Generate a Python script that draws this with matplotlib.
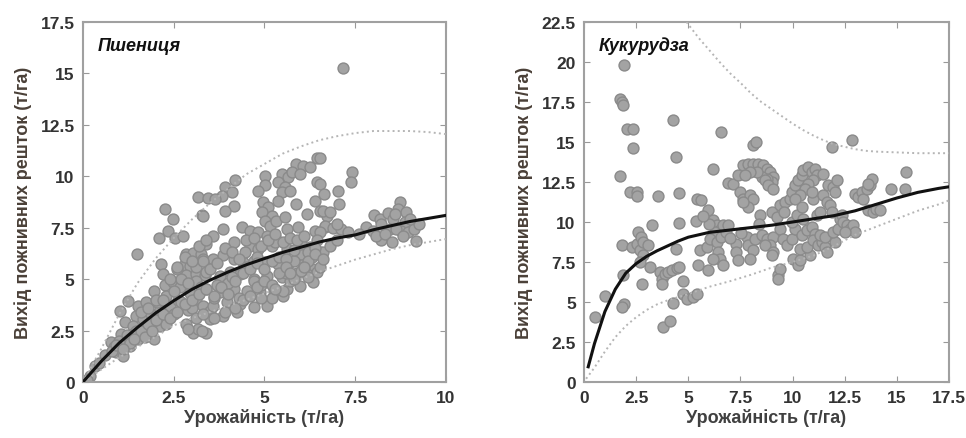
import matplotlib
matplotlib.use('Agg')
import matplotlib.pyplot as plt
from matplotlib.ticker import FuncFormatter

plt.rcParams['font.family'] = ['Liberation Sans', 'DejaVu Sans']

# --- Wheat (Пшениця) observations: yield, residue ---
wheat_x = [7.15, 1.5, 2.25, 2.48, 2.09, 2.34, 2.53, 2.75, 3.17, 3.44, 3.29, 2.16, 2.2,
           2.85, 3.03, 3.26, 2.75, 2.94, 1.97, 2.25, 2.48, 2.66, 2.85, 3.12, 3.35,
           1.24, 1.01, 1.52, 1.74, 1.47, 1.15, 1.38, 1.65, 1.88, 2.11, 2.39, 2.62,
           2.94, 3.12, 3.3, 3.49, 2.11, 2.3, 2.85, 3.03, 3.17, 3.4, 0.78, 0.92, 1.1,
           1.29, 1.52, 1.06, 1.38, 0.32, 1.84, 1.97,
           6.44, 5.88, 6.07, 6.25, 5.47, 5.65, 5.75, 5.98, 5.01, 5.01, 5.38, 5.56,
           5.47, 5.7, 6.44, 4.83, 4.19, 3.91, 4.1, 3.82, 3.64, 4.97, 5.1, 5.38, 4.92,
           5.2, 5.88, 6.16, 6.39, 6.53, 6.72, 4.15, 3.92, 3.31, 5.01, 5.15, 5.33, 5.56,
           5.61, 5.93, 6.39, 6.67, 4.38, 4.61, 4.83, 5.06, 5.29, 3.59, 3.87, 3.4,
           4.15, 4.61, 4.83, 5.2, 5.61, 5.89, 6.26, 6.53, 3.31, 3.59, 3.87, 4.15,
           4.42, 4.7, 5.01, 5.38, 5.7, 6.07, 6.34, 3.4, 3.77, 4.05, 4.33, 4.7, 5.06,
           5.47, 5.84, 6.16, 6.44, 3.4, 3.77, 4.15, 4.52, 4.88, 5.25, 5.61, 5.98,
           6.34, 3.59, 3.96, 4.33, 4.7, 5.06, 5.52, 3.5, 3.87, 4.24, 3.27,
           6.53, 7.4, 7.37, 6.53, 6.64, 7.03, 7.06, 6.62, 6.8, 6.67, 6.9, 7.12, 7.31,
           6.53, 6.62, 6.53, 7.8, 8.03, 8.17, 7.99, 8.22, 8.08, 8.4, 8.54, 8.45, 8.31,
           8.72, 8.67, 8.9, 8.86, 8.77, 8.95, 9.13, 9.18, 8.63, 8.81, 8.6, 8.22,
           2.5, 2.7, 2.9, 3.1, 3.6, 3.8, 4.0, 4.3, 4.5, 4.7, 4.9, 5.2, 5.5, 5.7,
           5.9, 6.1, 6.3, 6.0, 5.8, 5.6, 0.6, 0.85, 1.2, 1.45, 1.7, 1.9, 2.05, 2.6,
           3.0, 3.25, 3.7, 4.1, 4.45, 4.8, 5.3, 6.2, 6.45, 9.25, 9.0, 8.5, 7.6, 7.0,
           1.0, 1.2, 1.3, 1.6, 1.8, 2.0, 2.2, 2.4, 2.6, 2.8, 3.0, 3.2, 3.4, 3.6, 3.8,
           4.0, 4.2, 4.4, 4.6, 4.8, 5.0, 5.2, 5.4, 5.6, 5.8, 6.0, 6.2, 6.4, 2.3, 2.5,
           2.7, 2.9, 3.1, 3.3, 3.5, 3.7, 3.9, 4.1, 4.3, 4.5, 4.7, 4.9, 5.1, 5.3, 5.5,
           5.7, 5.9, 6.1, 3.6, 3.9, 4.2, 4.4, 4.6, 4.8, 5.0, 5.2, 5.4, 5.6, 5.8, 6.0,
           6.2, 6.4, 6.6, 6.8, 7.0, 0.8, 0.9, 1.1, 1.4, 1.7, 1.9, 1.6, 1.8, 2.0, 2.2,
           2.4, 2.6, 2.8, 3.0, 3.2, 3.4, 2.9, 3.1, 3.3, 4.9, 5.3, 5.7, 6.1, 0.45, 0.2,
           0.1]
wheat_y = [15.27, 6.22, 8.4, 7.9, 7.0, 7.35, 7.0, 7.1, 9.0, 8.95, 8.1, 5.74, 5.25,
           6.2, 6.25, 6.2, 5.65, 5.65, 4.44, 4.7, 4.85, 4.6, 5.2, 5.25, 5.2,
           3.95, 3.47, 3.7, 3.87, 3.22, 2.9, 2.74, 3.06, 3.3, 3.55, 3.7, 4.0,
           4.35, 4.03, 3.7, 3.47, 2.74, 2.82, 2.82, 2.4, 2.56, 2.4, 1.93, 1.44, 1.28,
           1.77, 2.09, 2.33, 2.33, 0.78, 2.4, 2.1,
           10.9, 10.6, 10.5, 10.45, 10.1, 9.95, 10.2, 10.1, 10.0, 9.6, 9.7, 9.46,
           9.22, 9.3, 9.7, 9.3, 9.8, 9.46, 9.22, 9.05, 8.9, 8.73, 8.5, 8.81, 8.25,
           8.08, 8.65, 8.17, 8.81, 8.33, 8.08, 8.57, 8.33, 8.08, 7.84, 7.6, 7.84, 8.0,
           7.44, 7.52, 7.36, 7.52, 7.52, 7.36, 7.28, 7.12, 7.04, 7.12, 7.44, 6.71,
           6.8, 6.63, 6.47, 6.63, 6.47, 6.47, 6.55, 6.3, 6.0, 6.0, 6.15, 6.0,
           5.82, 5.9, 5.82, 5.73, 5.82, 5.73, 5.5, 5.33, 5.17, 5.33, 5.25, 5.0, 5.17,
           5.09, 5.17, 5.25, 5.33, 4.52, 4.36, 4.52, 4.44, 4.36, 4.44, 4.52, 4.68,
           4.85, 3.71, 3.87, 3.79, 3.63, 3.71, 4.2, 3.06, 3.22, 3.38, 2.5,
           10.9, 10.22, 9.74, 9.63, 9.14, 9.3, 8.65, 8.33, 8.25, 7.6, 7.5, 7.44, 7.3,
           7.28, 6.3, 5.6, 7.52, 8.14, 7.92, 7.36, 6.88, 7.12, 8.22, 7.92, 7.44, 7.2,
           8.73, 8.41, 8.25, 7.76, 7.36, 7.28, 7.44, 6.87, 7.44, 7.12, 8.17, 7.68,
           3.3, 3.9, 3.5, 4.9, 4.1, 4.6, 4.8, 4.1, 5.6, 4.9, 4.7, 4.1, 4.4, 4.9,
           5.3, 5.6, 6.1, 6.2, 5.9, 5.3, 1.3, 1.7, 2.0, 2.5, 2.6, 2.9, 3.9, 5.5,
           3.6, 4.6, 4.7, 5.1, 6.3, 6.1, 6.8, 5.1, 6.9, 7.7, 7.9, 6.8, 7.2, 7.7,
           2.0, 2.3, 1.9, 2.5, 2.8, 3.0, 3.3, 3.1, 3.4, 3.8, 4.0, 4.3, 4.5, 4.2, 4.6,
           4.3, 4.9, 5.3, 5.5, 5.8, 5.5, 5.9, 6.1, 6.0, 6.4, 6.7, 6.3, 6.5, 4.2, 4.4,
           5.0, 4.8, 5.6, 5.9, 5.5, 5.8, 6.5, 6.3, 6.0, 6.9, 7.0, 6.6, 6.9, 7.2, 6.8,
           7.0, 6.9, 7.1, 3.1, 3.4, 3.6, 4.0, 4.2, 4.6, 4.9, 4.7, 5.3, 5.6, 5.0, 5.4,
           5.9, 6.2, 6.0, 6.6, 6.9, 1.5, 1.8, 1.6, 2.1, 2.2, 2.5, 3.4, 3.6, 4.0, 4.0,
           5.0, 5.6, 6.1, 5.9, 6.6, 6.9, 2.6, 3.1, 3.3, 4.1, 4.5, 5.3, 5.6, 0.9, 0.3,
           0.1]

# --- Corn (Кукурудза) observations ---
corn_x = [1.92, 1.72, 1.8, 1.88, 2.04, 2.36, 2.36, 1.72, 2.2, 2.52, 2.52, 3.56, 4.28,
          4.41, 4.57, 3.24, 4.57, 1.8, 2.28, 2.52, 2.68, 2.6, 2.72, 2.84, 3.07, 2.84,
          3.16, 2.68, 1.85, 1.92, 1.8, 2.76, 1.0, 0.53, 3.64, 3.72, 3.88, 4.04, 4.2,
          4.44, 4.57, 3.72, 4.41, 4.76, 4.76, 4.92, 5.24, 5.4, 4.28, 3.8, 4.12,
          5.4, 5.59, 5.37, 5.96, 5.56, 5.88, 5.48, 5.96, 6.2, 6.59, 6.2, 6.36, 6.52,
          6.28, 6.04, 6.36, 6.59, 6.83, 6.68, 6.9, 6.44, 6.52, 6.68, 6.2, 6.91, 7.15,
          7.31, 7.31, 7.39, 7.39, 7.63, 7.87, 8.11, 8.35, 8.59, 8.75, 8.91, 9.07,
          8.99, 8.75, 8.51, 8.27, 7.95, 7.71, 8.11, 8.24, 8.67, 8.83, 9.07, 7.47,
          7.63, 7.79, 7.95, 8.11, 7.87, 7.63, 8.43, 7.79, 7.87, 8.11, 7.95, 8.19,
          8.51, 8.75, 9.07, 8.91, 8.67, 9.07, 8.99, 9.31, 9.39, 9.31, 8.99, 9.23,
          9.39, 9.63, 9.87, 9.95, 10.11, 10.27, 10.43, 10.51, 10.75, 10.91, 11.07,
          11.15, 10.99, 10.75, 10.59, 10.35, 10.11, 9.39, 9.55, 9.71, 9.95, 10.11,
          9.95, 10.19, 10.43, 10.51, 10.03, 10.27, 10.35, 10.83, 10.35, 10.67,
          10.43, 10.67, 10.91, 11.07, 10.99, 11.23, 11.39, 11.55, 11.63, 11.31,
          11.55, 11.15, 11.31, 10.99, 10.91, 11.47, 11.63, 11.79, 11.87, 11.71,
          11.95, 12.03, 12.11, 11.47, 11.87, 12.03, 11.95, 12.19, 12.27, 12.35,
          12.43, 12.59, 12.75, 12.91, 12.99, 12.51, 12.83, 12.99, 13.15, 13.31,
          13.39, 13.55, 13.71, 13.79, 13.63, 13.63, 13.87, 14.02, 14.18, 14.74,
          15.38, 15.46, 7.0, 7.55, 8.4, 9.6, 6.0, 5.7]
corn_y = [19.8, 17.7, 17.5, 17.3, 15.8, 15.8, 14.6, 12.9, 11.9, 11.9, 11.6, 11.6, 16.35,
          14.06, 11.83, 9.8, 9.96, 8.58, 8.44, 8.65, 8.23, 9.38, 9.06, 8.75, 8.54, 7.92,
          7.19, 7.5, 6.7, 4.9, 4.7, 6.15, 5.4, 4.06, 6.9, 6.46, 6.77, 6.88, 6.98,
          7.12, 7.19, 6.15, 8.33, 6.29, 5.52, 5.21, 5.31, 5.52, 4.96, 3.44, 3.79,
          11.46, 11.4, 10.04, 10.73, 8.23, 8.44, 7.29, 6.98, 13.3, 15.6, 10.1, 9.8, 9.48,
          9.38, 8.96, 8.75, 9.06, 9.38, 9.79, 9.79, 8.12, 7.71, 7.29, 7.71, 12.44, 12.4,
          8.65, 8.12, 7.6, 12.92, 13.54, 13.65, 13.65, 13.65, 13.54, 13.33, 13.13, 12.81,
          12.5, 12.71, 12.81, 13.13, 13.13, 12.92, 14.79, 15.0, 12.6, 12.29, 12.08, 11.88,
          11.46, 11.25, 11.67, 11.46, 10.94, 11.25, 10.42, 9.06, 8.54, 8.23, 7.71, 8.96,
          9.17, 8.96, 9.06, 8.54, 8.54, 8.12, 7.92, 6.67, 7.08, 6.46, 10.65, 10.31,
          11.04, 11.25, 11.46, 11.88, 12.29, 12.6, 12.92, 13.23, 13.44, 13.13, 13.33,
          12.92, 12.6, 12.4, 12.08, 11.67, 11.46, 9.58, 8.96, 8.54, 8.96, 9.58,
          10.0, 10.42, 10.94, 10.21, 7.71, 7.29, 7.6, 7.92, 8.33, 8.44,
          9.17, 9.48, 9.69, 9.27, 8.85, 8.54, 8.75, 8.44, 8.12, 9.17,
          9.06, 10.42, 10.62, 11.46, 11.88, 11.67, 11.25, 11.04, 10.62, 12.29,
          12.19, 11.88, 12.6, 13.02, 14.69, 8.75, 9.38, 9.58, 10.21, 10.42,
          10.0, 9.79, 9.58, 9.79, 9.38, 9.38, 15.1, 11.77, 11.56, 11.88,
          11.46, 12.08, 12.29, 12.71, 12.4, 10.73, 10.62, 10.83, 10.73, 12.08,
          12.08, 13.13, 9.0, 9.3, 9.9, 10.6, 9.9, 10.4]

# --- fitted curve and bounds ---
wheat_cx = [0, 0.5, 1, 1.5, 2, 2.5, 3, 3.5, 4, 4.5, 5, 5.5, 6, 6.5, 7, 7.5, 8, 8.5, 9, 9.5, 10]
wheat_mean = [0, 1.0, 1.9, 2.65, 3.35, 3.95, 4.5, 4.95, 5.35, 5.7, 6.0, 6.3, 6.55, 6.8,
              7.0, 7.15, 7.4, 7.6, 7.8, 7.95, 8.1]
wheat_upper = [0, 1.6, 3.3, 4.8, 6.0, 7.0, 7.9, 8.7, 9.4, 10.1, 10.6, 11.1, 11.45, 11.75,
               11.95, 12.1, 12.2, 12.2, 12.2, 12.15, 12.05]
wheat_lower = [0, 0.6, 1.2, 1.7, 2.2, 2.75, 3.1, 3.4, 3.7, 4.0, 4.3, 4.65, 5.0, 5.35,
               5.65, 5.95, 6.2, 6.45, 6.65, 6.8, 6.95]

corn_cx = [0.2, 0.5, 1, 1.5, 2, 2.5, 3, 3.5, 4, 4.5, 5, 6, 7, 8, 9, 10, 11, 12, 13, 14,
           15, 16, 17, 17.5]
corn_mean = [0.95, 2.4, 4.4, 5.8, 6.8, 7.4, 7.85, 8.2, 8.5, 8.8, 9.05, 9.35, 9.5, 9.65,
             9.8, 10.0, 10.2, 10.4, 10.7, 11.1, 11.5, 11.85, 12.1, 12.2]
corn_lx = [0.1, 0.5, 1, 1.5, 2, 2.5, 3, 3.5, 4, 5, 6, 7, 8, 9, 10, 11, 12, 13, 14, 15,
           16, 17, 17.5]
corn_lower = [0.2, 0.9, 1.9, 2.8, 3.5, 4.05, 4.5, 4.85, 5.1, 5.5, 5.95, 6.3, 6.7, 7.15,
              7.5, 7.9, 8.5, 9.2, 9.7, 10.2, 10.7, 11.1, 11.35]
corn_ux = [4.5, 5, 5.5, 6, 6.5, 7, 7.5, 8, 8.5, 9, 9.5, 10, 10.5, 11, 11.5, 12, 12.5, 13,
           13.5, 14, 15, 16, 17, 17.5]
corn_upper = [23.3, 22.35, 21.5, 20.75, 20.0, 19.3, 18.7, 18.05, 17.5, 17.05, 16.6, 16.15,
              15.75, 15.4, 15.1, 14.85, 14.7, 14.55, 14.45, 14.4, 14.35, 14.3, 14.3, 14.3]

TXT = '#333333'
fmt = FuncFormatter(lambda v, p: f'{v:g}')

fig = plt.figure(figsize=(9.66, 4.39), dpi=100)
ax1 = fig.add_axes([0.0859, 0.1276, 0.3758, 0.82])
ax2 = fig.add_axes([0.6046, 0.1276, 0.3778, 0.82])


def style(ax, xmax, ymax, name):
    ax.set_xlim(0, xmax)
    ax.set_ylim(0, ymax)
    ax.set_xticks([i * 2.5 for i in range(int(xmax / 2.5) + 1)])
    ax.set_yticks([i * 2.5 for i in range(int(ymax / 2.5) + 1)])
    ax.xaxis.set_major_formatter(fmt)
    ax.yaxis.set_major_formatter(fmt)
    ax.tick_params(direction='in', top=True, right=True, length=4, color='#999999',
                   labelsize=12.5, labelcolor=TXT, pad=6)
    for lab in ax.get_xticklabels() + ax.get_yticklabels():
        lab.set_fontweight('bold')
    for s in ax.spines.values():
        s.set_color('#a0a0a0')
        s.set_linewidth(1.5)
    ax.set_xlabel('Урожайність (т/га)', fontsize=13, fontweight='bold', color='#404040',
                  labelpad=2)
    ax.set_ylabel('Вихід пожнивних решток (т/га)', fontsize=13, fontweight='bold',
                  color='#4a4038', labelpad=6)
    ax.text(0.04, 0.935, name, transform=ax.transAxes, fontsize=13, fontweight='bold',
            fontstyle='italic', color='#111111', va='center', ha='left')


scat = dict(s=62, c='#a3a3a3', edgecolors='#8a8a8a', linewidths=1.0, zorder=2)
dots = dict(color='#b5b5b5', linestyle=':', linewidth=1.4, zorder=3)

ax1.scatter(wheat_x, wheat_y, **scat)
ax1.plot(wheat_cx, wheat_upper, **dots)
ax1.plot(wheat_cx, wheat_lower, **dots)
ax1.plot(wheat_cx, wheat_mean, color='#111111', linewidth=2.2, zorder=4)
style(ax1, 10, 17.5, 'Пшениця')

ax2.scatter(corn_x, corn_y, **scat)
ax2.plot(corn_ux, corn_upper, **dots)
ax2.plot(corn_lx, corn_lower, **dots)
ax2.plot(corn_cx, corn_mean, color='#111111', linewidth=2.2, zorder=4)
style(ax2, 17.5, 22.5, 'Кукурудза')

fig.savefig('out.png', dpi=100)
